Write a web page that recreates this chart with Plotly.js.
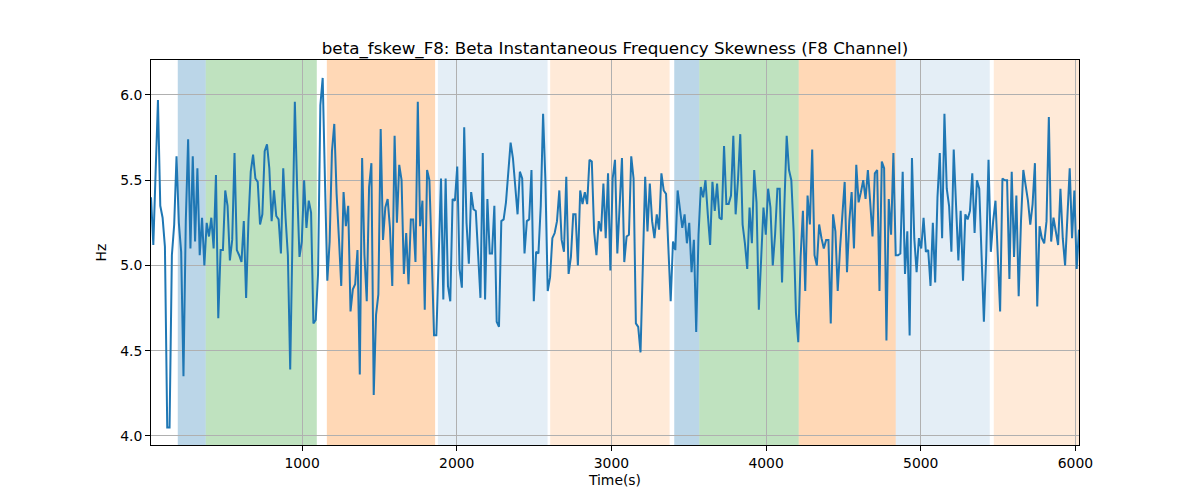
<!DOCTYPE html>
<html>
<head>
<meta charset="utf-8">
<script src="https://cdn.plot.ly/plotly-3.0.1.min.js"></script>
<style>
  html, body { margin: 0; padding: 0; background: #fff; }
  #chart { width: 1200px; height: 500px; }
</style>
</head>
<body>
<div id="chart"></div>
<script>
// -----------------------
// Data
// -----------------------
const T_START = 23;   // first sample, s
const T_STEP = 15;    // sampling step, s

const hzPart1 = [5.40, 5.12, 5.55, 5.97, 5.35, 5.28, 5.11, 4.05, 4.05, 5.06, 5.24, 5.64, 5.25, 5.08, 4.35, 5.26,
  5.74, 5.10, 5.64, 5.14, 5.57, 5.06, 5.28, 5.00, 5.25, 5.17, 5.28, 5.10, 5.53, 4.69, 5.09, 5.09,
  5.44, 5.35, 5.03, 5.15, 5.66, 5.09, 5.06, 5.02, 5.26, 4.81, 5.26, 5.55, 5.65, 5.51, 5.49, 5.24,
  5.30, 5.67, 5.71, 5.57, 5.26, 5.44, 5.29, 5.27, 5.07, 5.57, 5.28, 5.06, 4.39, 5.20, 5.96, 5.45];
const hzPart2 = [5.05, 5.14, 5.50, 5.22, 5.38, 5.31, 4.66, 4.68, 4.95, 5.94, 6.10, 5.49, 4.91, 5.14, 5.67, 5.83,
  5.42, 5.16, 4.88, 5.43, 5.23, 5.35, 4.73, 4.86, 4.89, 5.09, 4.36, 5.63, 5.06, 4.79, 5.46, 5.60,
  4.24, 4.71, 4.83, 5.80, 5.15, 5.34, 5.39, 5.22, 4.88, 5.76, 5.25, 5.59, 5.50, 4.95, 5.19, 4.89,
  5.27, 5.27, 5.02, 5.96, 5.23, 5.38, 4.74, 5.56, 5.50, 5.06, 4.59, 4.59, 5.06, 5.51, 4.80, 5.51, 4.88];
const hzPart3 = [4.79, 5.39, 5.38, 5.58, 4.98, 4.87, 5.81, 5.25, 5.01, 5.43, 5.33, 5.32, 5.08, 4.81, 5.66, 4.80,
  5.39, 5.07, 5.07, 5.35, 4.67, 4.64, 5.26, 5.27, 5.37, 5.55, 5.72, 5.63, 5.45, 5.30, 5.55, 5.51,
  5.07, 5.26, 5.27, 5.56, 4.79, 5.08, 5.07, 5.35, 5.89, 5.50, 4.85, 4.93, 5.16, 5.19, 5.26, 5.44,
  5.15, 5.08, 5.52, 4.95, 5.05, 5.30, 5.30, 5.00, 5.44, 5.36, 5.43, 5.36, 5.62, 5.61, 5.20, 5.06, 5.26];
const hzPart4 = [5.20, 5.48, 5.16, 5.54, 4.97, 5.51, 5.62, 5.07, 5.35, 5.63, 5.02, 5.17, 5.18, 5.64, 5.51, 4.66,
  4.64, 4.49, 5.00, 5.52, 5.20, 5.48, 5.26, 5.16, 5.30, 5.21, 5.54, 5.44, 5.42, 5.10, 4.79, 5.14,
  5.09, 5.44, 5.34, 5.22, 5.30, 5.13, 5.25, 4.96, 5.15, 4.61, 5.18, 5.46, 5.40, 5.50, 5.30, 5.12,
  5.49, 5.32, 5.48, 5.28, 5.27, 5.70, 5.36, 5.36, 5.41, 5.76, 5.30, 5.50, 5.77, 5.24, 5.13, 4.98];
const hzPart5 = [5.34, 5.13, 5.56, 5.37, 4.74, 5.04, 5.34, 5.18, 5.45, 5.34, 5.00, 5.18, 5.45, 5.45, 4.90, 5.35,
  5.76, 5.56, 5.50, 5.20, 4.72, 4.55, 5.05, 5.32, 4.85, 5.41, 5.24, 5.68, 5.06, 5.00, 5.24, 5.16,
  5.10, 5.15, 5.15, 4.66, 5.30, 5.20, 4.85, 5.10, 5.28, 5.49, 4.96, 5.26, 5.43, 5.10, 5.59, 5.37,
  5.43, 5.50, 5.39, 5.56, 5.37, 5.17, 5.54, 5.56, 4.85, 5.61, 5.57, 4.56, 5.39, 5.18, 5.66, 5.06, 5.06];
const hzPart6 = [5.07, 5.55, 4.95, 5.20, 4.59, 5.63, 5.16, 4.96, 5.16, 5.10, 5.28, 5.08, 5.09, 4.88, 5.25, 4.90,
  5.40, 5.66, 5.16, 5.89, 5.45, 5.35, 5.08, 5.68, 5.38, 5.03, 5.32, 4.91, 5.30, 5.27, 5.32, 5.54,
  5.19, 5.50, 5.45, 5.06, 4.67, 5.06, 5.62, 5.08, 5.26, 5.38, 5.10, 4.73, 5.51, 5.50, 5.50, 4.92,
  5.55, 5.05, 5.41, 4.82, 5.26, 5.56, 5.47, 5.38, 5.24, 5.36, 5.60, 4.76, 5.23, 5.16, 5.13, 5.26,
  5.87, 5.14, 5.28, 5.21, 5.12, 5.45, 5.16, 5.00, 5.28, 5.57, 5.16, 5.44, 4.98, 5.21];

// shaded phases
const bandStart = [196, 377, 1160, 1878, 2604, 3406, 3568, 4211, 4838, 5472];
const bandEnd   = [377, 1095, 1860, 2587, 3376, 3568, 4211, 4838, 5446, 6040];
const bandKind  = ["blue", "green", "orange", "lightblue", "lightorange",
                   "blue", "green", "orange", "lightblue", "lightorange"];

const yTicks = [4.0, 4.5, 5.0, 5.5, 6.0];
const xTicks = [1000, 2000, 3000, 4000, 5000, 6000];

// -----------------------
// Build
// -----------------------
const BAND_COLORS = {
  blue: "rgba(31,119,180,0.3)",
  green: "rgba(44,160,44,0.3)",
  orange: "rgba(255,127,14,0.3)",
  lightblue: "rgba(31,119,180,0.12)",
  lightorange: "rgba(255,127,14,0.16)"
};

const hz = [...hzPart1, ...hzPart2, ...hzPart3, ...hzPart4, ...hzPart5, ...hzPart6];
const time = hz.map((_, i) => T_START + i * T_STEP);

const shapes = bandStart.map((s, i) => ({
  type: "rect",
  xref: "x", yref: "paper",
  x0: s, x1: bandEnd[i], y0: 0, y1: 1,
  fillcolor: BAND_COLORS[bandKind[i]],
  line: { width: 0 },
  layer: "below"
}));

const trace = {
  x: time,
  y: hz,
  type: "scatter",
  mode: "lines",
  line: { color: "#1f77b4", width: 2 },
  hoverinfo: "x+y"
};

const FAMILY = "DejaVu Sans, sans-serif";

const axisCommon = {
  showline: true, mirror: true, linecolor: "#000", linewidth: 1,
  ticks: "outside", ticklen: 5, tickcolor: "#000",
  showgrid: true, gridcolor: "#b0b0b0", gridwidth: 1,
  zeroline: false,
  tickfont: { size: 13.9, family: FAMILY, color: "#000" }
};

const layout = {
  width: 1200, height: 500,
  margin: { l: 151, r: 121, t: 60, b: 55 },
  paper_bgcolor: "#fff",
  plot_bgcolor: "#fff",
  showlegend: false,
  font: { family: FAMILY, color: "#000" },
  title: {
    text: "beta_fskew_F8: Beta Instantaneous Frequency Skewness (F8 Channel)",
    font: { size: 16.7, family: FAMILY, color: "#000" },
    x: 0.5, xanchor: "center", xref: "paper",
    y: 1, yref: "paper", yanchor: "bottom", pad: { b: 6 }
  },
  xaxis: Object.assign({}, axisCommon, {
    range: [time[0], time[time.length - 1]],
    tickvals: xTicks,
    ticktext: xTicks.map(String),
    title: { text: "Time(s)", font: { size: 13.9, family: FAMILY, color: "#000" }, standoff: 5 }
  }),
  yaxis: Object.assign({}, axisCommon, {
    range: [3.947, 6.205],
    tickvals: yTicks,
    ticktext: yTicks.map(v => v.toFixed(1)),
    title: { text: "Hz", font: { size: 13.9, family: FAMILY, color: "#000" }, standoff: 10 }
  }),
  shapes: shapes
};

Plotly.newPlot("chart", [trace], layout, { displayModeBar: false, staticPlot: true });
</script>
</body>
</html>
